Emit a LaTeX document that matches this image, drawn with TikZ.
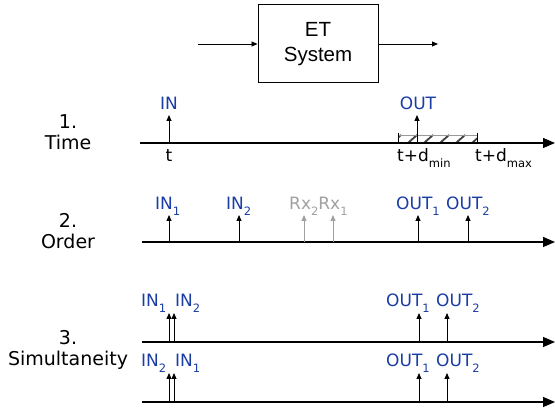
\documentclass[tikz,border=0pt]{standalone}
\usepackage{fontspec}
\setmainfont{DejaVu Sans}
\newfontfamily\arialf{Liberation Sans}
\usetikzlibrary{arrows.meta}
\definecolor{lblue}{RGB}{25,60,165}
\definecolor{rxgray}{RGB}{160,160,160}
\newcommand\lowsub[1]{\raisebox{-0.32em}{\fontsize{11.5}{13}\selectfont #1}}
\begin{document}
\begin{tikzpicture}[x=1pt,y=-1pt,
  axis/.style={line width=1.3pt,-{Triangle[length=12pt,width=10pt]}},
  ev/.style={line width=0.9pt,-{Triangle[length=6pt,width=5pt]}},
  rx/.style={ev,draw=rxgray},
  lbl/.style={text=lblue,font=\fontsize{17}{20}\selectfont,inner sep=0pt,anchor=base west},
  tl/.style={font=\fontsize{17}{20}\selectfont,inner sep=0pt,anchor=base west},
  side/.style={font=\fontsize{19}{22}\selectfont,inner sep=0pt,anchor=base}]
\useasboundingbox (0,0) rectangle (555,411);
% system box
\node[draw,line width=1pt,minimum width=120pt,minimum height=78pt,inner sep=0pt,
      align=center,font=\arialf\fontsize{20.5}{25}\selectfont] (sys) at (318,44) {ET\\System};
\coordinate (sin) at (198,44);
\coordinate (sout) at (438,44);
\draw[ev] (sin) -- (sys.west);
\draw[ev] (sys.east) -- (sout);
% side labels
\node[side] (n1) at (68,129) {1.};
\node[side] (n1b) at (68,150) {Time};
\node[side] (n2) at (68,228) {2.};
\node[side] (n2b) at (68,249) {Order};
\node[side] (n3) at (68,345) {3.};
\node[side] (n3b) at (68,366) {Simultaneity};
% ---- row 1
\coordinate (a1s) at (140,143);
\coordinate (a1e) at (555,143);
\begin{scope}
  \clip (398,135) rectangle (477,143);
  \foreach \x in {392,408,...,488} \draw[line width=1.8pt,black!75] (\x,143) -- (\x+9,135);
\end{scope}
\draw[line width=0.6pt,black!40] (398,135) -- (477,135);
\draw[line width=0.9pt] (398,133) -- (398,143);
\draw[line width=0.9pt] (477,133) -- (477,143);
\draw[axis] (a1s) -- (a1e);
\coordinate (r1inb) at (169,143); \coordinate (r1int) at (169,115);
\coordinate (r1outb) at (417,143); \coordinate (r1outt) at (417,115);
\draw[ev] (r1inb) -- (r1int);
\draw[ev] (r1outb) -- (r1outt);
\node[lbl,anchor=base] (r1in) at (169,110) {IN};
\node[lbl,anchor=base] (r1out) at (418,110) {OUT};
\node[tl,anchor=base] (r1t) at (169,162) {t};
\node[tl] (r1min) at (397,162) {t+d\lowsub{min}};
\node[tl] (r1max) at (475,162) {t+d\lowsub{max}};
% ---- row 2
\coordinate (a2s) at (142,242);
\coordinate (a2e) at (555,242);
\draw[axis] (a2s) -- (a2e);
\foreach \n/\x in {a/169,b/239,e/418,f/468}{
  \coordinate (r2\n b) at (\x,242); \coordinate (r2\n t) at (\x,215);
  \draw[ev] (r2\n b) -- (r2\n t);}
\foreach \n/\x in {c/304,d/333}{
  \coordinate (r2\n b) at (\x,242); \coordinate (r2\n t) at (\x,215);
  \draw[rx] (r2\n b) -- (r2\n t);}
\node[lbl] (r2in1) at (155,210) {IN\lowsub{1}};
\node[lbl] (r2in2) at (226,210) {IN\lowsub{2}};
\node[lbl,text=rxgray] (r2rx) at (289,210) {Rx\lowsub{2}Rx\lowsub{1}};
\node[lbl] (r2out1) at (396,210) {OUT\lowsub{1}};
\node[lbl] (r2out2) at (446,210) {OUT\lowsub{2}};
% ---- row 3a
\coordinate (a3s) at (142,342);
\coordinate (a3e) at (555,342);
\draw[axis] (a3s) -- (a3e);
\foreach \n/\x in {a/169,b/174,c/419,d/447}{
  \coordinate (r3\n b) at (\x,342); \coordinate (r3\n t) at (\x,313);
  \draw[ev] (r3\n b) -- (r3\n t);}
\node[lbl] (r3in1) at (141,307) {IN\lowsub{1}};
\node[lbl] (r3in2) at (175,307) {IN\lowsub{2}};
\node[lbl] (r3out1) at (386,307) {OUT\lowsub{1}};
\node[lbl] (r3out2) at (436,307) {OUT\lowsub{2}};
% ---- row 3b
\coordinate (a4s) at (142,402);
\coordinate (a4e) at (555,402);
\draw[axis] (a4s) -- (a4e);
\foreach \n/\x in {a/169,b/174,c/419,d/447}{
  \coordinate (r4\n b) at (\x,402); \coordinate (r4\n t) at (\x,373);
  \draw[ev] (r4\n b) -- (r4\n t);}
\node[lbl] (r4in2) at (141,367) {IN\lowsub{2}};
\node[lbl] (r4in1) at (175,367) {IN\lowsub{1}};
\node[lbl] (r4out1) at (386,367) {OUT\lowsub{1}};
\node[lbl] (r4out2) at (436,367) {OUT\lowsub{2}};
\end{tikzpicture}
\end{document}
